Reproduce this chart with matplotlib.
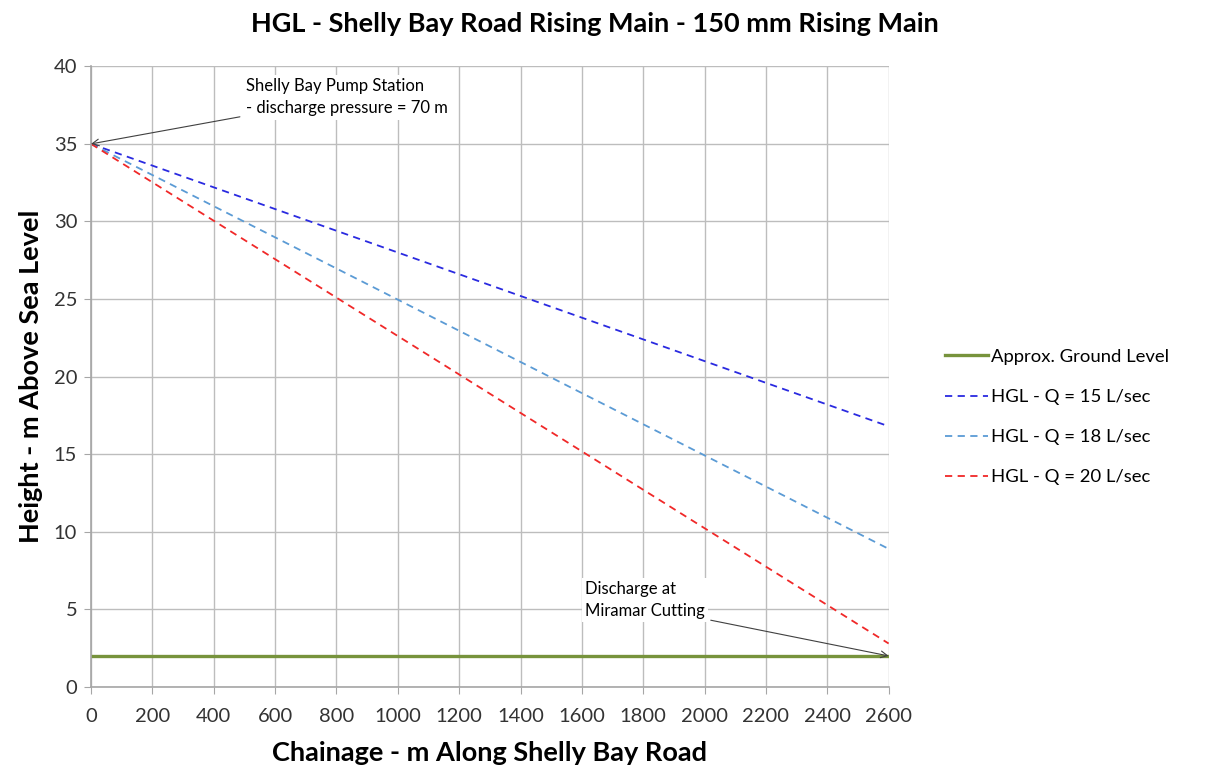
import matplotlib.pyplot as plt

# chainage (m) along Shelly Bay Road
chainage = [0, 2600]

# heights (m above sea level)
ground = [2.0, 2.0]
hgl_15 = [35.0, 16.8]
hgl_18 = [35.0, 8.9]
hgl_20 = [35.0, 2.8]

series_labels = ['Approx. Ground Level', 'HGL - Q = 15 L/sec',
                 'HGL - Q = 18 L/sec', 'HGL - Q = 20 L/sec']

x_ticks = list(range(0, 2601, 200))
y_ticks = list(range(0, 41, 5))

plt.rcParams['font.family'] = ['Lato', 'DejaVu Sans']

fig = plt.figure(figsize=(12.14, 7.71), dpi=100)
ax = fig.add_axes([0.075, 0.109, 0.657, 0.805])

dash = (0, (4, 3))
ax.plot(chainage, ground, color='#77933C', lw=2.4, label=series_labels[0])
ax.plot(chainage, hgl_15, color='#2A2AE0', lw=1.3, ls=dash, label=series_labels[1])
ax.plot(chainage, hgl_18, color='#5B9BD5', lw=1.3, ls=dash, label=series_labels[2])
ax.plot(chainage, hgl_20, color='#F02828', lw=1.3, ls=dash, label=series_labels[3])

ax.set_xlim(0, 2600)
ax.set_ylim(0, 40)
ax.set_xticks(x_ticks)
ax.set_yticks(y_ticks)
ax.grid(True, color='#BDBDBD', lw=1)
ax.set_axisbelow(True)
for side in ['top', 'right']:
    ax.spines[side].set_visible(False)
for side in ['left', 'bottom']:
    ax.spines[side].set_color('#A6A6A6')
    ax.spines[side].set_linewidth(1.2)
ax.tick_params(axis='both', labelsize=14.5, colors='#A6A6A6', labelcolor='#333333',
               length=5, pad=5)
ax.tick_params(axis='x', pad=10)

ax.set_xlabel('Chainage - m Along Shelly Bay Road', fontsize=19.5, fontweight='bold', labelpad=12)
ax.set_ylabel('Height - m Above Sea Level', fontsize=19.5, fontweight='bold', labelpad=8)
fig.suptitle('HGL - Shelly Bay Road Rising Main - 150 mm Rising Main',
             fontsize=19.5, fontweight='bold', x=0.49, y=0.985)

ax.annotate('Shelly Bay Pump Station\n- discharge pressure = 70 m',
            xy=(0, 35), xytext=(505, 38.0), fontsize=12, va='center', ha='left',
            linespacing=1.45,
            bbox=dict(boxstyle='square,pad=0.2', fc='white', ec='none'),
            arrowprops=dict(arrowstyle='->', color='#404040', lw=0.8,
                            shrinkA=2, shrinkB=0))
ax.annotate('Discharge at\nMiramar Cutting',
            xy=(2600, 2), xytext=(1610, 5.6), fontsize=12, va='center', ha='left',
            linespacing=1.45,
            bbox=dict(boxstyle='square,pad=0.2', fc='white', ec='none'),
            arrowprops=dict(arrowstyle='->', color='#404040', lw=0.8,
                            shrinkA=2, shrinkB=0, relpos=(1.0, 0.0)))

ax.legend(loc='center left', bbox_to_anchor=(1.05, 0.435), frameon=False,
          fontsize=13.3, handlelength=2.3, handletextpad=0.2, labelspacing=1.3)

fig.savefig('out.png', dpi=100)
